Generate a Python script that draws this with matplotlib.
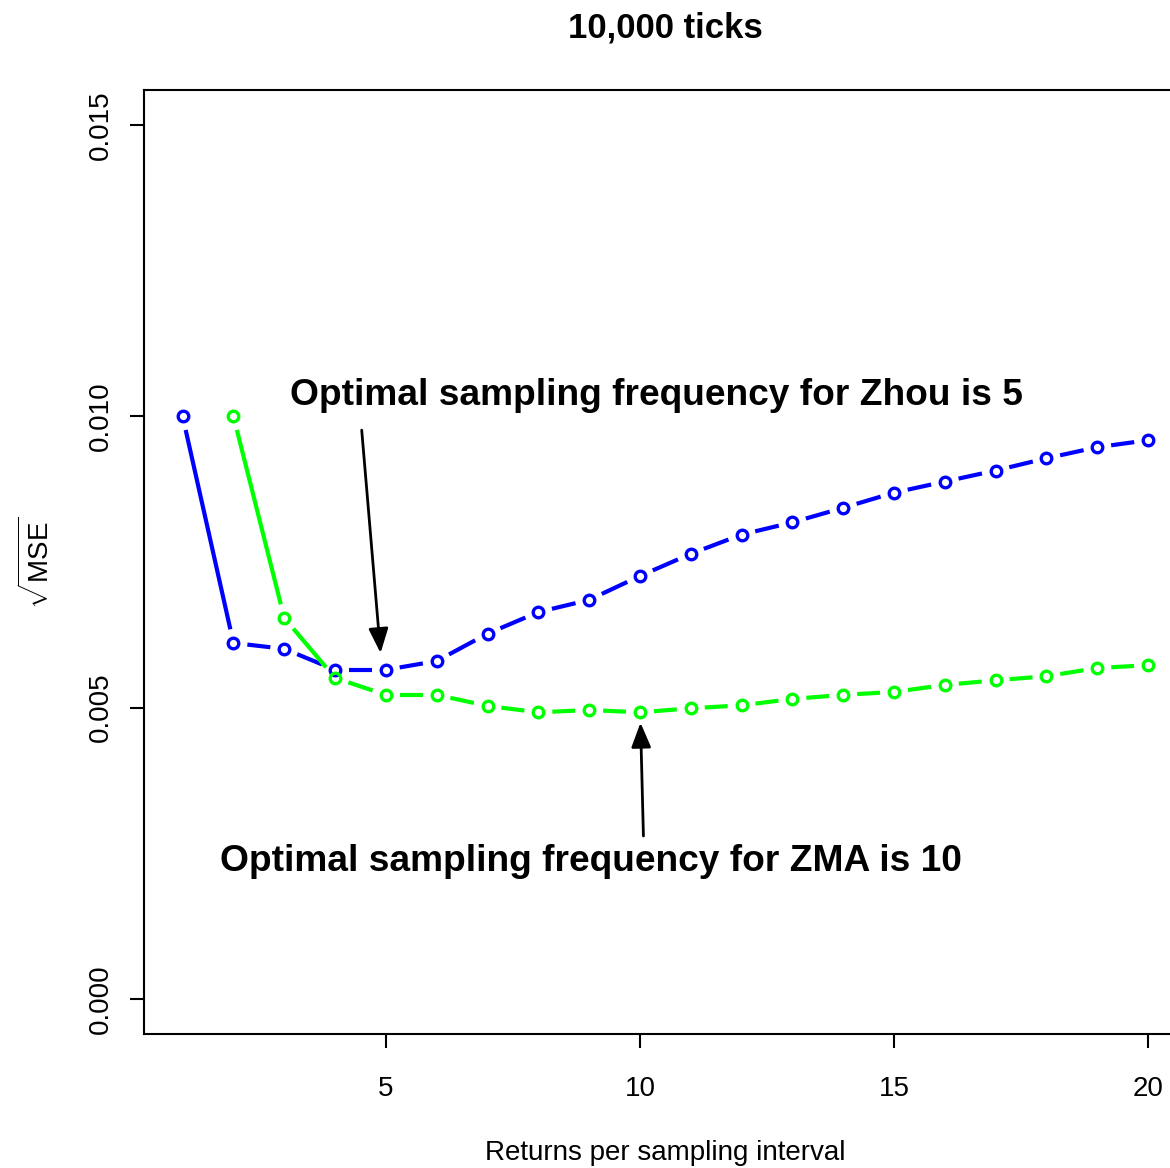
""" sqrt(MSE) against sampling interval, 10,000 ticks """

# imports
import matplotlib
matplotlib.use('Agg')
import matplotlib.pyplot as plt
import numpy as np

# data
intervals = list(range(1, 21))
zhou = [0.01000, 0.00611, 0.00601, 0.00565, 0.00565, 0.00580, 0.00627, 0.00664,
        0.00685, 0.00726, 0.00764, 0.00797, 0.00818, 0.00843, 0.00869, 0.00888,
        0.00907, 0.00928, 0.00947, 0.00959]
zma_x = list(range(2, 21))
zma = [0.01000, 0.00654, 0.00551, 0.00522, 0.00522, 0.00503, 0.00492, 0.00496,
       0.00492, 0.00499, 0.00504, 0.00515, 0.00522, 0.00527, 0.00539, 0.00547,
       0.00554, 0.00568, 0.00573]
title = '10,000 ticks'
xLabel = 'Returns per sampling interval'
xTicks = [5, 10, 15, 20]
yTicks = [0.000, 0.005, 0.010, 0.015]

# fonts
plt.rcParams['font.family'] = ['Liberation Sans', 'DejaVu Sans']
plt.rcParams['mathtext.fontset'] = 'custom'
plt.rcParams['mathtext.rm'] = 'Liberation Sans'

W, H = 1170, 1168
fig = plt.figure(figsize=(W / 100, H / 100), dpi=100)
ax = fig.add_axes([144 / W, 1 - 1034 / H, (1186.7 - 144) / W, (1034 - 90) / H])
ax.set_xlim(0.24, 20.76)
ax.set_ylim(-0.0006, 0.0156)


# type="b" style: segments with gaps around the points
def drawSeries(xs, ys, color, gap=14):
	pts = ax.transData.transform(np.column_stack([xs, ys]))
	inv = ax.transData.inverted()
	for i in range(len(pts) - 1):
		a, b = pts[i], pts[i + 1]
		d = np.hypot(*(b - a))
		if d <= 2 * gap:
			continue
		u = (b - a) / d
		seg = inv.transform(np.array([a + u * gap, b - u * gap]))
		ax.plot(seg[:, 0], seg[:, 1], color=color, lw=3.0, solid_capstyle='butt')
	ax.plot(xs, ys, ls='none', marker='o', ms=7.6, mfc='none', mec=color, mew=2.4)


drawSeries(intervals, zhou, '#0000FF')
drawSeries(zma_x, zma, '#00FF00')

# annotations
arrowStyle = dict(arrowstyle='-|>,head_length=1.5,head_width=0.6', color='black', lw=2)
ax.annotate('', xy=(4.90, 0.00589), xytext=(4.52, 0.00981), arrowprops=arrowStyle)
ax.annotate('', xy=(10.01, 0.00479), xytext=(10.07, 0.00275), arrowprops=arrowStyle)
ax.text(10.32, 0.01036, 'Optimal sampling frequency for Zhou is 5', ha='center', va='center',
        fontsize=26.7, fontweight='bold')
ax.text(9.03, 0.00236, 'Optimal sampling frequency for ZMA is 10', ha='center', va='center',
        fontsize=26.7, fontweight='bold')

# axes styling
ax.set_xticks(xTicks)
ax.set_xticklabels([str(t) for t in xTicks])
ax.set_yticks(yTicks)
ax.set_yticklabels([f'{t:.3f}' for t in yTicks], rotation=90, va='center')
ax.tick_params(axis='both', length=10, width=1.5, labelsize=20)
ax.tick_params(axis='x', pad=20)
ax.tick_params(axis='y', pad=12)
for s in ax.spines.values():
	s.set_linewidth(1.5)

fig.text(665 / W, 1 - 28 / H, title, ha='center', va='center', fontsize=25, fontweight='bold')
fig.text(665 / W, 1 - 1153 / H, xLabel, ha='center', va='center', fontsize=20)
fig.text(37 / W, 1 - 563 / H, r'$\sqrt{\mathrm{MSE}}$', ha='center', va='center', rotation=90, fontsize=20)

fig.savefig('out.png', dpi=100)
